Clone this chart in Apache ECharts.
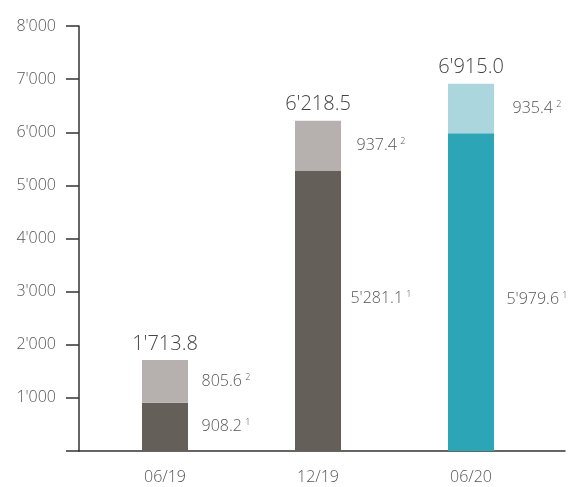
<!DOCTYPE html>
<html><head><meta charset="utf-8">
<script src="https://cdn.jsdelivr.net/npm/echarts@6/dist/echarts.min.js"></script>
<style>html,body{margin:0;padding:0;background:#fff}#c{width:579px;height:487px}</style>
</head><body><div id="c"></div>
<script>
const categories = ['06/19', '12/19', '06/20'];
const baseValues = [908.2, 5281.1, 5979.6];
const topValues = [805.6, 937.4, 935.4];
const totals = [1713.8, 6218.5, 6915.0];

const baseColors = ['#655f5a', '#655f5a', '#2ca5b6'];
const topColors = ['#b6b1ae', '#b6b1ae', '#acd6de'];
const baseLabelOffsets = [[-2, 0], [0, -12], [3, 7]];
const topLabelOffsets = [[-2, 0], [0, 0], [3, 0]];

function fmt(v, d) {
  const s = v.toFixed(d);
  const parts = s.split('.');
  const int = parts[0].replace(/\B(?=(\d{3})+(?!\d))/g, "'");
  return parts.length > 1 ? int + '.' + parts[1] : int;
}
const FONT = '"Open Sans", "DejaVu Sans", sans-serif';
const TXT = '#555';
const rich = {
  v: { fontFamily: FONT, fontSize: 16, color: TXT, fontWeight: 300 },
  s: { fontFamily: FONT, fontSize: 9, color: TXT, fontWeight: 300, padding: [0, 0, 8, 0] }
};

const chart = echarts.init(document.getElementById('c'), null, { renderer: 'canvas' });
chart.setOption({
  animation: false,
  grid: [
    { left: 88.5, right: 31.5, top: 26, bottom: 36 },
    { left: 79, right: 14, top: 26, bottom: 36 }
  ],
  xAxis: [
    {
      type: 'category', data: categories, gridIndex: 0,
      axisLine: { show: false },
      axisTick: { show: false },
      axisLabel: { margin: 18, fontFamily: FONT, fontSize: 16, color: TXT, fontWeight: 300 }
    },
    {
      type: 'value', gridIndex: 1, min: 0, max: 1,
      splitLine: { show: false }, axisTick: { show: false }, axisLabel: { show: false },
      axisLine: { show: true, lineStyle: { color: '#333', width: 1.5 } }
    }
  ],
  yAxis: [
    {
      type: 'value', gridIndex: 0, min: 0, max: 8000, interval: 1000, offset: 9.5,
      splitLine: { show: false },
      axisLine: { show: true, lineStyle: { color: '#333', width: 1.5 } },
      axisTick: { show: true, length: 13, lineStyle: { color: '#333', width: 1.5 } },
      axisLabel: {
        margin: 23, fontFamily: FONT, fontSize: 16, color: TXT, fontWeight: 300,
        formatter: v => v === 0 ? '' : fmt(v, 0)
      }
    },
    { type: 'value', gridIndex: 1, min: 0, max: 1, show: false }
  ],
  series: [
    {
      type: 'bar', stack: 't', barWidth: 46,
      data: baseValues.map((v, i) => ({
        value: v,
        itemStyle: { color: baseColors[i] },
        label: { offset: baseLabelOffsets[i] }
      })),
      label: {
        show: true, position: 'right', distance: 40, align: 'center',
        formatter: p => '{v|' + fmt(p.value, 1) + '} {s|1}', rich: rich
      }
    },
    {
      type: 'bar', stack: 't', barWidth: 46,
      data: topValues.map((v, i) => ({
        value: v,
        itemStyle: { color: topColors[i] },
        label: { offset: topLabelOffsets[i] }
      })),
      label: {
        show: true, position: 'right', distance: 40, align: 'center',
        formatter: p => '{v|' + fmt(p.value, 1) + '} {s|2}', rich: rich
      }
    },
    {
      type: 'bar', stack: 't', barWidth: 46,
      data: totals.map(() => 0),
      itemStyle: { color: 'transparent' },
      label: {
        show: true, position: 'top', distance: 6,
        fontFamily: FONT, fontSize: 20, color: '#444', fontWeight: 300,
        formatter: p => fmt(totals[p.dataIndex], 1)
      }
    }
  ]
});
</script></body></html>
